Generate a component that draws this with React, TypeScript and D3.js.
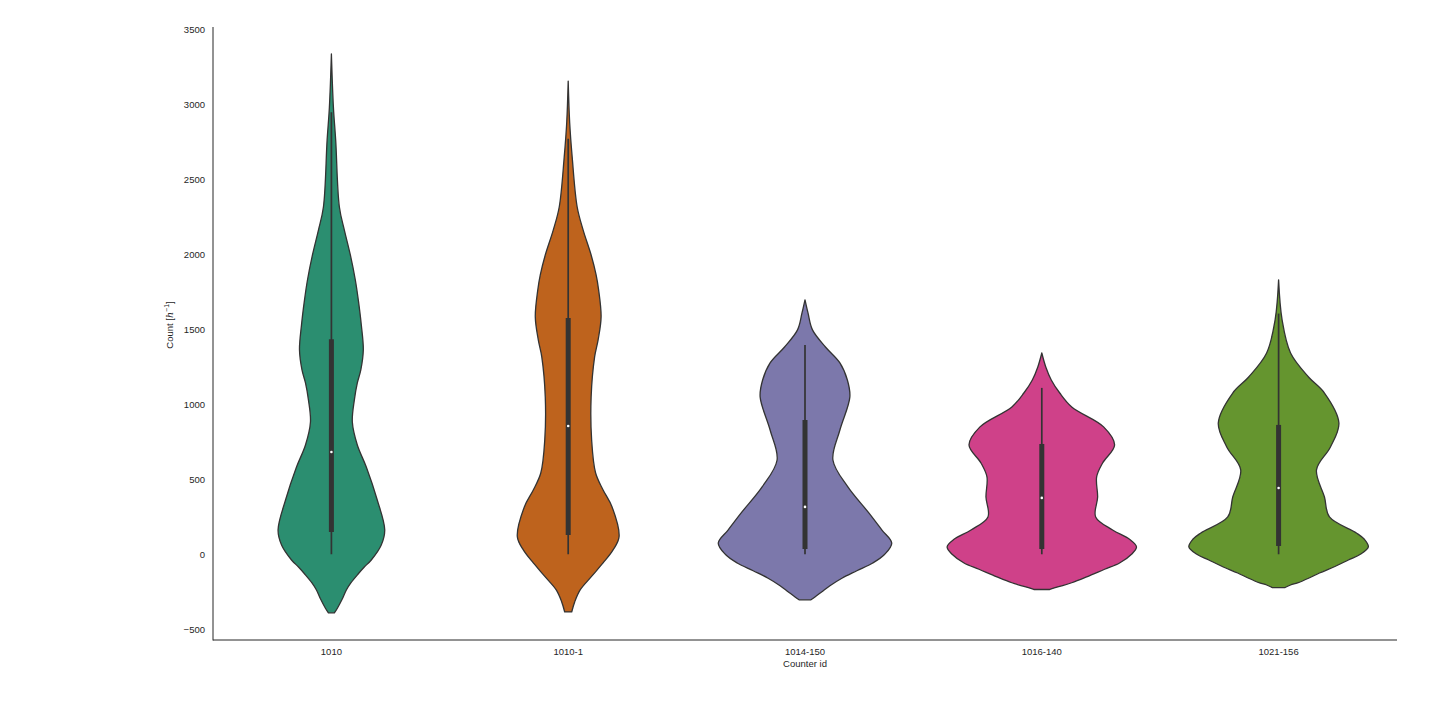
import React from "react";
import * as d3 from "d3";

// Categories (counter ids)
const categories = ["1010", "1010-1", "1014-150", "1016-140", "1021-156"];
const colors = ["#2b8e70", "#be631d", "#7c78ab", "#cf4189", "#65952f"];

// Violin outlines: [count value, relative density (max 95)]
const violin1010 = [
  [-391, 3], [-360, 6], [-304, 10.5], [-238, 15], [-191, 19.5], [-130, 27], [-85, 33], [-38, 40],
  [62, 50], [162, 53.5], [362, 46], [582, 35], [729, 26], [882, 21], [1029, 23], [1143, 26],
  [1230, 29.5], [1363, 32], [1530, 30], [1696, 27], [1830, 24], [1997, 19], [2163, 13], [2317, 8],
  [2763, 4.3], [2984, 2], [3338, 0],
];
const violin1010_1 = [
  [-385, 3.5], [-318, 6.5], [-238, 12], [-151, 23], [-58, 35], [29, 45], [116, 51], [316, 44],
  [429, 35], [542, 27.5], [763, 23.5], [1050, 23], [1317, 26.5], [1430, 30], [1584, 33],
  [1764, 30.5], [1864, 28], [1997, 23], [2163, 15], [2317, 9], [2650, 4], [2877, 1.5], [3157, 0],
];
const violin1014_150 = [
  [-304, 6], [-285, 10], [-250, 17], [-210, 25], [-160, 37], [-110, 52], [-58, 68], [0, 80],
  [75, 87], [163, 77], [276, 64], [449, 43], [629, 28], [829, 35], [1050, 45], [1163, 42.5],
  [1277, 35], [1383, 20.5], [1497, 7.5], [1610, 3], [1697, 0],
];
const violin1016_140 = [
  [-235, 8], [-218, 16], [-190, 30], [-151, 45], [-100, 63], [-58, 78], [0, 90], [49, 95],
  [100, 88], [162, 71], [249, 54], [382, 56], [516, 55], [609, 61], [729, 73], [850, 62],
  [983, 30], [1076, 18], [1163, 9.5], [1250, 4], [1343, 0],
];
const violin1021_156 = [
  [-222, 6.5], [-205, 12], [-191, 19], [-160, 30], [-125, 41], [-80, 57], [-38, 70], [0, 82],
  [49, 90], [100, 86], [142, 78], [249, 51], [382, 46], [563, 38], [716, 52], [876, 60.5],
  [1076, 46], [1183, 30], [1343, 12], [1564, 3.5], [1831, 0],
];
const violins = [violin1010, violin1010_1, violin1014_150, violin1016_140, violin1021_156];

// Inner box statistics
const q1 = [149, 129, 35, 35, 55];
const medians = [682, 856, 316, 376, 442];
const q3 = [1434, 1576, 896, 736, 863];
const whiskerLow = [0, 0, 0, 0, 0];
const whiskerHigh = [2950, 2772, 1396, 1110, 1606];

const yTicks = [-500, 0, 500, 1000, 1500, 2000, 2500, 3000, 3500];

const W = 1440;
const H = 720;
const margin = { left: 213, right: 1397, top: 27, bottom: 640 };
const font = "'Liberation Sans', Arial, sans-serif";
const textColor = "#262626";
const lineColor = "#333333";

export default function App() {
  const x = d3.scaleBand<string>().domain(categories).range([margin.left, margin.right]).padding(0);
  const y = d3.scaleLinear().domain([-572, 3518]).range([margin.bottom, margin.top]);
  const w = d3.scaleLinear().domain([0, 95]).range([0, x.bandwidth() * 0.4]);

  return (
    <svg width={W} height={H} style={{ position: "absolute", left: 0, top: 0, background: "#fff" }}>
      {violins.map((pts, i) => {
        const cx = (x(categories[i]) as number) + x.bandwidth() / 2;
        const area = d3
          .area<number[]>()
          .y((d) => y(d[0]))
          .x0((d) => cx - w(d[1]))
          .x1((d) => cx + w(d[1]))
          .curve(d3.curveCatmullRom.alpha(0.5));
        return (
          <g key={categories[i]}>
            <path d={area(pts) as string} fill={colors[i]} stroke={lineColor} strokeWidth={1.3} strokeLinejoin="round" />
            <line x1={cx} x2={cx} y1={y(whiskerLow[i])} y2={y(whiskerHigh[i])} stroke={lineColor} strokeWidth={1.7} />
            <line x1={cx} x2={cx} y1={y(q1[i])} y2={y(q3[i])} stroke={lineColor} strokeWidth={5} />
            <circle cx={cx} cy={y(medians[i])} r={1.3} fill="#ffffff" />
          </g>
        );
      })}
      {/* spines */}
      <line x1={margin.left} x2={margin.left} y1={margin.top} y2={margin.bottom + 0.5} stroke={textColor} strokeWidth={1} />
      <line x1={margin.left} x2={margin.right} y1={margin.bottom} y2={margin.bottom} stroke={textColor} strokeWidth={1} />
      {/* y ticks */}
      {yTicks.map((t) => (
        <text key={t} x={margin.left - 8} y={y(t)} dy="0.35em" textAnchor="end" fontFamily={font} fontSize={9.5} fill={textColor}>
          {t < 0 ? "\u2212" + Math.abs(t) : String(t)}
        </text>
      ))}
      {/* x ticks */}
      {categories.map((c) => (
        <text key={c} x={(x(c) as number) + x.bandwidth() / 2} y={655} textAnchor="middle" fontFamily={font} fontSize={9.5} fill={textColor}>
          {c}
        </text>
      ))}
      <text x={(margin.left + margin.right) / 2} y={667} textAnchor="middle" fontFamily={font} fontSize={9.5} fill={textColor}>
        Counter id
      </text>
      <text transform={`translate(173, 325) rotate(-90)`} textAnchor="middle" fontFamily={font} fontSize={9.5} fill={textColor}>
        Count [<tspan fontStyle="italic" fontFamily="'DejaVu Serif', serif">h</tspan>
        <tspan dy="-4" fontSize={7}>{"\u22121"}</tspan>
        <tspan dy="4">]</tspan>
      </text>
    </svg>
  );
}
